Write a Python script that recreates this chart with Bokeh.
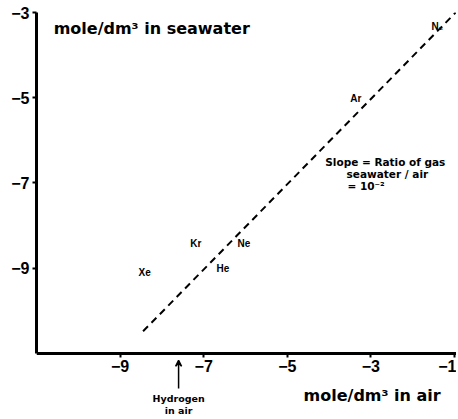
from bokeh.plotting import figure
from bokeh.models import Label, Arrow, VeeHead, FixedTicker, ColumnDataSource, Range1d
from bokeh.embed import file_html
from bokeh.resources import INLINE
from bokeh.core.properties import value

# log10(mole/dm3) in air vs in seawater
gases = ["N₂", "Ar", "Ne", "Kr", "He", "Xe"]
air_log = [-1.55, -3.49, -6.19, -7.32, -6.69, -8.56]
sea_log = [-3.33, -5.02, -8.42, -8.42, -9.01, -9.1]
slope_x = [-8.45, -0.97]
slope_y = [-10.48, -3.0]
hydrogen_air = -7.6
x_ticks = [-9, -7, -5, -3, -1]
y_ticks = [-3, -5, -7, -9]

FONT = "Liberation Sans"
WIDE = "DejaVu Sans"

p = figure(width=456, height=415, output_backend="svg", toolbar_location=None,
           x_range=Range1d(-11, -0.95), y_range=Range1d(-12.455, -3),
           min_border_left=36, min_border_right=0, min_border_top=12, min_border_bottom=0)
p.outline_line_color = None
p.grid.visible = False
p.background_fill_color = "white"

for ax, ticks in ((p.xaxis, x_ticks), (p.yaxis, y_ticks)):
    ax.ticker = FixedTicker(ticks=ticks)
    ax.axis_line_width = 3
    ax.axis_line_color = "black"
    ax.major_tick_line_width = 2
    ax.major_tick_out = 4
    ax.major_tick_in = 0
    ax.minor_tick_out = 0
    ax.minor_tick_in = 0
    ax.major_label_text_font = FONT
    ax.major_label_text_font_style = "bold"
    ax.major_label_text_font_size = "16px"
    ax.major_label_text_color = "black"
    ax.major_label_standoff = 3
p.xaxis.fixed_location = -11
p.yaxis.bounds = (-11, -3)

p.line(slope_x, slope_y, line_color="black", line_width=2, line_dash="7 5")

src = ColumnDataSource(dict(x=air_log, y=sea_log, t=gases))
p.text(x="x", y="y", text="t", source=src, text_font=value(FONT), text_font_style="bold",
       text_font_size="10px", text_align="left", text_baseline="middle", text_color="black")

def lab(x, y, t, size, align="left", font=WIDE):
    p.add_layout(Label(x=x, y=y, text=t, text_font=font, text_font_style="bold",
                       text_font_size=size, text_align=align, text_baseline="middle",
                       text_color="black"))

lab(-10.59, -3.38, "mole/dm³ in seawater", "16px")
lab(-4.61, -11.99, "mole/dm³  in air", "16px")
lab(-4.09, -6.50, "Slope = Ratio of gas", "10.5px")
lab(-3.58, -6.80, "seawater / air", "10.5px")
lab(-3.56, -7.08, "= 10⁻²", "10.5px")
lab(hydrogen_air, -12.06, "Hydrogen", "9.5px", "center")
lab(hydrogen_air, -12.34, "in air", "9.5px", "center")

p.add_layout(Arrow(end=VeeHead(size=6, line_color="black", line_width=1.5),
                   x_start=hydrogen_air, y_start=-11.82, x_end=hydrogen_air, y_end=-11.16,
                   line_color="black", line_width=1.5))

open("out.html", "w").write(file_html(p, INLINE))
